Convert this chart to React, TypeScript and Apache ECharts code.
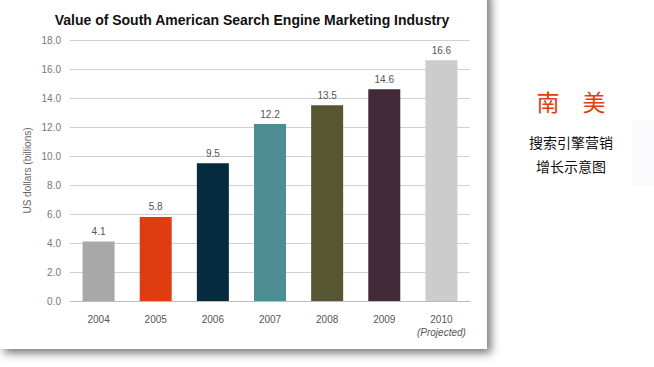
import React, { useEffect, useRef } from "react";
import * as echarts from "echarts";

const categories = ["2004", "2005", "2006", "2007", "2008", "2009", "2010"];
const values = [4.1, 5.8, 9.5, 12.2, 13.5, 14.6, 16.6];
const barColors = ["#a8a8a8", "#e03c12", "#062b3e", "#4f8d95", "#575632", "#432a39", "#cccccc"];
const title = "Value of South American Search Engine Marketing Industry";
const yAxisName = "US dollars (billions)";
const sideTitle = "南　美";
const sideLines = ["搜索引擎营销", "增长示意图"];

export default function App() {
  const ref = useRef<HTMLDivElement>(null);
  useEffect(() => {
    const chart = echarts.init(ref.current!, null, { renderer: "svg" });
    chart.setOption({
      animation: false,
      backgroundColor: "#ffffff",
      graphic: [
        {
          type: "rect",
          z: -10,
          shape: { x: 0, y: -10, width: 487, height: 359 },
          style: { fill: "#ffffff", shadowBlur: 10, shadowOffsetX: 4, shadowOffsetY: 4, shadowColor: "rgba(0,0,0,0.55)" },
          silent: true,
        },
        {
          type: "rect",
          z: -10,
          shape: { x: 632, y: 120, width: 22, height: 66 },
          style: { fill: "#fbfafd" },
          silent: true,
        },
        {
          type: "text",
          x: 571,
          y: 101,
          style: { text: sideTitle, fill: "#e23d12", font: "23px 'Noto Sans CJK SC'", align: "center", verticalAlign: "middle" },
        },
        {
          type: "text",
          x: 571,
          y: 142,
          style: { text: sideLines[0], fill: "#111111", font: "14px 'Noto Sans CJK SC'", align: "center", verticalAlign: "middle" },
        },
        {
          type: "text",
          x: 571,
          y: 166,
          style: { text: sideLines[1], fill: "#111111", font: "14px 'Noto Sans CJK SC'", align: "center", verticalAlign: "middle" },
        },
      ],
      title: {
        text: title,
        left: 247,
        textAlign: "center",
        top: 8,
        textStyle: { fontFamily: "Liberation Sans", fontWeight: "bold", fontSize: 14, color: "#111111" },
      },
      grid: { left: 70, right: 184, top: 40, bottom: 66 },
      xAxis: {
        type: "category",
        data: categories,
        axisLine: { lineStyle: { color: "#bbbbbb", width: 1 } },
        axisTick: { show: false },
        axisLabel: {
          interval: 0,
          color: "#555555",
          fontFamily: "Liberation Sans",
          fontSize: 10,
          margin: 12,
          lineHeight: 13,
          formatter: (v: string) => (v === "2010" ? "2010\n{i|(Projected)}" : v),
          rich: { i: { fontStyle: "italic", fontSize: 10, color: "#555555", fontFamily: "Liberation Sans", lineHeight: 13 } },
        },
      },
      yAxis: {
        type: "value",
        min: 0,
        max: 18,
        interval: 2,
        name: yAxisName,
        nameLocation: "middle",
        nameGap: 38,
        nameMoveOverlap: false,
        nameTextStyle: { color: "#666666", fontFamily: "Liberation Sans", fontSize: 10 },
        axisLine: { show: false },
        axisTick: { show: false },
        axisLabel: {
          color: "#777777",
          fontFamily: "Liberation Sans",
          fontSize: 10,
          margin: 9,
          formatter: (v: number) => v.toFixed(1),
        },
        splitLine: { lineStyle: { color: "#d0d0d0", width: 1 } },
      },
      series: [
        {
          type: "bar",
          barWidth: 32,
          data: values.map((v, i) => ({ value: v, itemStyle: { color: barColors[i] } })),
          label: {
            show: true,
            position: "top",
            distance: 5,
            color: "#555555",
            fontFamily: "Liberation Sans",
            fontSize: 10,
            formatter: (p: any) => Number(p.value).toFixed(1),
          },
        },
      ],
    });
    return () => chart.dispose();
  }, []);
  return <div ref={ref} style={{ position: "absolute", left: 0, top: 0, width: 654, height: 367 }} />;
}
